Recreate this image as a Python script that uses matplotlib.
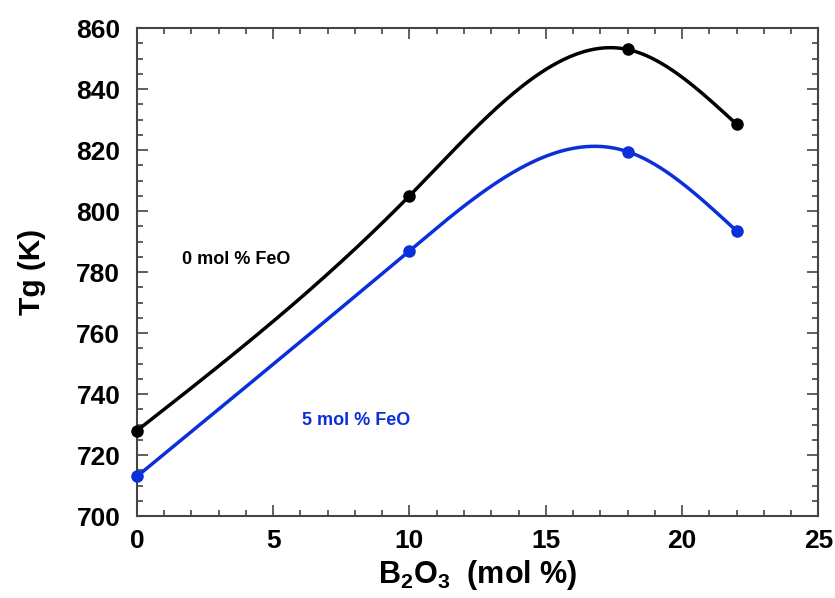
import numpy as np
from matplotlib import pyplot as plt
from matplotlib.ticker import MultipleLocator

# Data
b2o3 = [0, 10, 18, 22]
tg_0feo = [728, 805, 853, 828.5]
tg_5feo = [713, 787, 819.5, 793.5]

black = '#000000'
blue = '#0a2fdb'

plt.rcParams['font.family'] = ['Liberation Sans', 'DejaVu Sans']
plt.rcParams['font.weight'] = 'bold'
plt.rcParams['mathtext.fontset'] = 'custom'
plt.rcParams['mathtext.rm'] = 'Liberation Sans:bold'
plt.rcParams['mathtext.bf'] = 'Liberation Sans:bold'
plt.rcParams['mathtext.default'] = 'bf'


def natural_spline(x, y, xs):
    # natural cubic spline through the data points, used only to draw the smooth line
    x = np.asarray(x, float)
    y = np.asarray(y, float)
    n = len(x)
    h = np.diff(x)
    A = np.zeros((n, n))
    r = np.zeros(n)
    A[0, 0] = A[-1, -1] = 1
    for i in range(1, n - 1):
        A[i, i - 1] = h[i - 1]
        A[i, i] = 2 * (h[i - 1] + h[i])
        A[i, i + 1] = h[i]
        r[i] = 6 * ((y[i + 1] - y[i]) / h[i] - (y[i] - y[i - 1]) / h[i - 1])
    m = np.linalg.solve(A, r)
    out = np.empty_like(xs)
    for k, t in enumerate(xs):
        i = min(np.searchsorted(x, t, side='right') - 1, n - 2)
        i = max(i, 0)
        a = x[i + 1] - t
        b = t - x[i]
        out[k] = (m[i] * a ** 3 + m[i + 1] * b ** 3) / (6 * h[i]) \
            + (y[i] / h[i] - m[i] * h[i] / 6) * a + (y[i + 1] / h[i] - m[i + 1] * h[i] / 6) * b
    return out


fig = plt.figure(figsize=(8.35, 5.98), dpi=100)
ax = fig.add_axes([0.164, 0.137, 0.816, 0.816])

xs = np.linspace(min(b2o3), max(b2o3), 300)
for ys, c in [(tg_0feo, black), (tg_5feo, blue)]:
    ax.plot(xs, natural_spline(b2o3, ys, xs), color=c, lw=2.5, zorder=2)
    ax.plot(b2o3, ys, 'o', color=c, ms=8, zorder=3, clip_on=False)

ax.text(1.65, 784, '0 mol % FeO', color=black, fontsize=13, fontweight='bold', va='center')
ax.text(6.06, 731.5, '5 mol % FeO', color=blue, fontsize=13, fontweight='bold', va='center')

ax.set_xlim(0, 25)
ax.set_ylim(700, 860)
ax.xaxis.set_major_locator(MultipleLocator(5))
ax.xaxis.set_minor_locator(MultipleLocator(1))
ax.yaxis.set_major_locator(MultipleLocator(20))
ax.yaxis.set_minor_locator(MultipleLocator(5))
ax.tick_params(which='both', direction='in', top=True, right=True, width=1.2, color='#444444')
ax.tick_params(which='major', length=8, labelsize=19)
ax.tick_params(axis='y', which='major', pad=12)
ax.tick_params(axis='x', which='major', pad=9)
ax.tick_params(which='minor', length=4)
for lab in ax.get_xticklabels() + ax.get_yticklabels():
    lab.set_fontweight('bold')
for s in ax.spines.values():
    s.set_linewidth(1.5)
    s.set_color('#444444')

ax.set_xlabel('B$_{2}$O$_{3}$  (mol %)', fontsize=22, fontweight='bold', labelpad=4)
ax.set_ylabel('Tg (K)', fontsize=21.5, fontweight='bold', labelpad=22)

fig.savefig('out.png', dpi=100)
